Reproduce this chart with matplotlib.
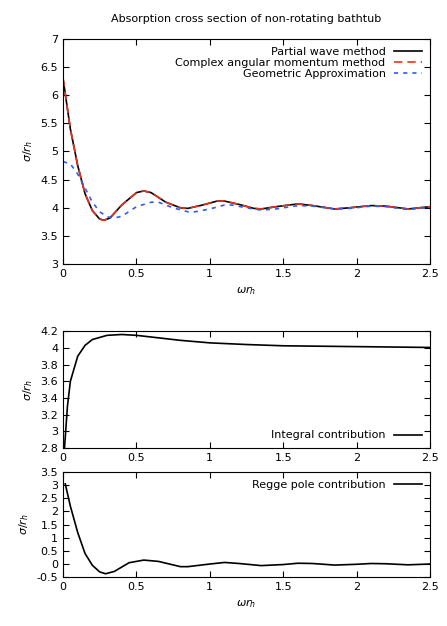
import numpy as np
from matplotlib import pyplot as plt

# values
x_pw = [0, 0.05, 0.1, 0.15, 0.2, 0.25, 0.28, 0.32, 0.4, 0.5, 0.55, 0.6, 0.7, 0.8, 0.85,
        0.95, 1.05, 1.1, 1.2, 1.3, 1.35, 1.45, 1.6, 1.7, 1.85, 1.95, 2.1, 2.2, 2.35, 2.5]
y_pw = [6.3, 5.4, 4.75, 4.25, 3.95, 3.8, 3.78, 3.82, 4.05, 4.27, 4.3, 4.27, 4.1, 4.0, 3.99,
        4.05, 4.12, 4.12, 4.06, 3.99, 3.98, 4.02, 4.07, 4.04, 3.98, 4.0, 4.04, 4.03, 3.98, 4.02]
x_geo = [0, 0.05, 0.1, 0.15, 0.2, 0.25, 0.3, 0.35, 0.4, 0.5, 0.6, 0.65, 0.75, 0.85, 0.9,
         1.0, 1.1, 1.15, 1.25, 1.35, 1.45, 1.6, 1.7, 1.85, 1.95, 2.1, 2.2, 2.35, 2.5]
y_geo = [4.82, 4.78, 4.6, 4.35, 4.1, 3.93, 3.84, 3.82, 3.85, 4.02, 4.1, 4.1, 4.0, 3.93, 3.93,
         3.98, 4.05, 4.05, 4.0, 3.96, 3.98, 4.04, 4.03, 3.98, 3.99, 4.03, 4.02, 3.97, 4.01]
x_int = [0.01, 0.03, 0.05, 0.1, 0.15, 0.2, 0.3, 0.4, 0.5, 0.6, 0.8, 1.0, 1.25, 1.5, 2.0, 2.5]
y_int = [2.8, 3.3, 3.6, 3.9, 4.03, 4.1, 4.15, 4.16, 4.15, 4.13, 4.09, 4.06, 4.04, 4.025, 4.015, 4.005]
x_rp = [0.015, 0.05, 0.1, 0.15, 0.2, 0.25, 0.29, 0.35, 0.45, 0.55, 0.65, 0.8, 0.85, 1.0, 1.1,
        1.2, 1.35, 1.5, 1.6, 1.7, 1.85, 2.0, 2.1, 2.2, 2.35, 2.5]
y_rp = [3.05, 2.2, 1.2, 0.4, -0.05, -0.3, -0.37, -0.28, 0.05, 0.15, 0.1, -0.1, -0.1, 0.0, 0.06,
        0.02, -0.06, -0.02, 0.03, 0.02, -0.04, -0.01, 0.02, 0.01, -0.03, 0.0]

plt.rcParams['font.size'] = 8

def style(ax):
    ax.tick_params(direction='in', top=True, right=True, length=4)
    ax.set_xlim(0, 2.5)
    ax.set_xticks([0, 0.5, 1, 1.5, 2, 2.5])
    ax.set_xticklabels(['0', '0.5', '1', '1.5', '2', '2.5'])
    ax.set_ylabel(r'$\sigma/r_h$', fontsize=8)

fig = plt.figure(figsize=(4.47, 6.26), dpi=100)

ax1 = fig.add_axes([0.141, 0.578, 0.821, 0.36])
ax1.plot(x_pw, y_pw, color='black', lw=1.2, label='Partial wave method')
ax1.plot(x_pw, y_pw, color='#e8321e', lw=1.2, dashes=(5, 3), label='Complex angular momentum method')
ax1.plot(x_geo, y_geo, color='#2f5ef0', lw=1.2, dashes=(2.5, 3), label='Geometric Approximation')
ax1.set_ylim(3, 7)
ax1.set_yticks([3, 3.5, 4, 4.5, 5, 5.5, 6, 6.5, 7])
ax1.set_yticklabels(['3', '3.5', '4', '4.5', '5', '5.5', '6', '6.5', '7'])
style(ax1)
ax1.set_xlabel(r'$\omega r_h$', fontsize=8)
ax1.set_title('Absorption cross section of non-rotating bathtub', fontsize=8, pad=12)
ax1.legend(loc='upper right', frameon=False, markerfirst=False, handlelength=2.5,
           labelspacing=0.1, borderaxespad=0.3)

ax2 = fig.add_axes([0.141, 0.284, 0.821, 0.187])
ax2.plot(x_int, y_int, color='black', lw=1.2, label='Integral contribution')
ax2.set_ylim(2.8, 4.2)
ax2.set_yticks([2.8, 3, 3.2, 3.4, 3.6, 3.8, 4, 4.2])
ax2.set_yticklabels(['2.8', '3', '3.2', '3.4', '3.6', '3.8', '4', '4.2'])
style(ax2)
ax2.legend(loc='lower right', frameon=False, markerfirst=False, handlelength=2.5, borderaxespad=0.3)

ax3 = fig.add_axes([0.141, 0.078, 0.821, 0.168])
ax3.plot(x_rp, y_rp, color='black', lw=1.2, label='Regge pole contribution')
ax3.set_ylim(-0.5, 3.5)
ax3.set_yticks([-0.5, 0, 0.5, 1, 1.5, 2, 2.5, 3, 3.5])
ax3.set_yticklabels(['-0.5', '0', '0.5', '1', '1.5', '2', '2.5', '3', '3.5'])
style(ax3)
ax3.set_xlabel(r'$\omega r_h$', fontsize=8)
ax3.legend(loc='upper right', frameon=False, markerfirst=False, handlelength=2.5, borderaxespad=0.3)

fig.savefig('out.png', dpi=100)
